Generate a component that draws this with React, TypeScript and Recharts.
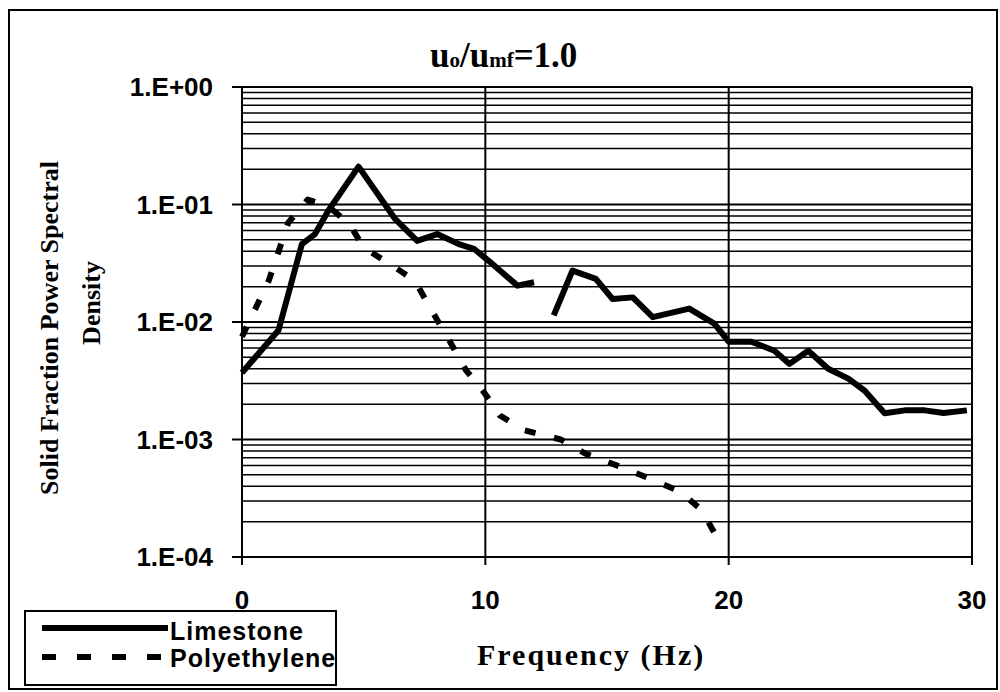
import React from 'react';
import { LineChart, Line, XAxis, YAxis, CartesianGrid, ReferenceLine } from 'recharts';

// Limestone: solid line, with a gap between ~12 and ~12.8 Hz
const limeFreq = [0, 1.5, 2.46, 3.0, 3.54, 4.79, 6.3, 7.2, 8.02, 8.91, 9.53, 10.15, 11.32, 12.0, 12.4, 12.81, 13.58, 14.54, 15.23, 16.06, 16.88, 18.38, 19.41, 20.0, 20.93, 21.88, 22.5, 23.27, 24.09, 24.92, 25.59, 26.41, 27.24, 28.06, 28.83, 29.79];
const limePsd = [0.0037, 0.0085, 0.046, 0.056, 0.088, 0.21, 0.075, 0.049, 0.056, 0.046, 0.042, 0.033, 0.0204, 0.0218, null, 0.0114, 0.0274, 0.0233, 0.0157, 0.0162, 0.011, 0.013, 0.0097, 0.0068, 0.0068, 0.0057, 0.0044, 0.0057, 0.004, 0.0033, 0.0026, 0.00167, 0.00177, 0.00177, 0.00168, 0.00177];

// Polyethylene: dashed line
const polyFreq = [0, 1.1, 1.9, 2.7, 3.5, 4.4, 5.0, 6.2, 7.1, 7.8, 8.6, 9.2, 9.9, 10.6, 11.6, 13.1, 14.1, 15.7, 16.7, 18.0, 18.9, 19.7];
const polyPsd = [0.0075, 0.0225, 0.07, 0.11, 0.098, 0.069, 0.043, 0.03, 0.0225, 0.0125, 0.0065, 0.0039, 0.0026, 0.0016, 0.0012, 0.001, 0.00076, 0.00057, 0.00047, 0.00036, 0.00025, 0.000125];

const xTicks = [0, 10, 20, 30];
const yTicks = [1e-4, 1e-3, 1e-2, 1e-1, 1];
const minorSteps = [2, 3, 4, 5, 6, 7, 8, 9];

const limestone = limeFreq.map((f, i) => ({ f, psd: limePsd[i] }));
const polyethylene = polyFreq.map((f, i) => ({ f, psd: polyPsd[i] }));
const minorLines = yTicks.slice(0, -1).flatMap((d) => minorSteps.map((m) => m * d));

const series = [
  { name: 'Limestone', data: limestone, dash: undefined as string | undefined },
  { name: 'Polyethylene', data: polyethylene, dash: '11 19' },
];

const SANS = '"Liberation Sans", Arial, sans-serif';
const SERIF = '"Liberation Serif", "Times New Roman", serif';

const fmtExp = (v: number) => {
  const e = Math.round(Math.log10(v));
  return `1.E${e < 0 ? '-' : '+'}${String(Math.abs(e)).padStart(2, '0')}`;
};

const tickStyle = { fontFamily: SANS, fontSize: 26, fontWeight: 'bold', fill: '#000' };

export default function App() {
  return (
    <div style={{ position: 'absolute', left: 0, top: 0, width: 1000, height: 692, background: '#fff' }}>
      <LineChart width={1000} height={692} margin={{ top: 87, right: 28, bottom: 75, left: 0 }}>
        <CartesianGrid stroke="#000" strokeWidth={2} strokeOpacity={1} />
        {minorLines.map((v) => (
          <ReferenceLine key={v} y={v} stroke="#000" strokeWidth={1.5} />
        ))}
        <ReferenceLine y={1} stroke="#000" strokeWidth={2} />
        <ReferenceLine x={30} stroke="#000" strokeWidth={2} />
        <XAxis
          dataKey="f"
          type="number"
          domain={[0, 30]}
          ticks={xTicks}
          height={60}
          tick={tickStyle}
          tickSize={8}
          tickMargin={26}
          axisLine={{ stroke: '#000', strokeWidth: 2 }}
          tickLine={{ stroke: '#000', strokeWidth: 2 }}
          allowDuplicatedCategory={false}
        />
        <YAxis
          type="number"
          scale="log"
          domain={[1e-4, 1]}
          ticks={yTicks}
          allowDataOverflow
          width={242}
          tick={tickStyle}
          tickFormatter={fmtExp}
          tickSize={10}
          tickMargin={19}
          axisLine={{ stroke: '#000', strokeWidth: 2 }}
          tickLine={{ stroke: '#000', strokeWidth: 2 }}
        />
        {series.map((s) => (
          <Line
            key={s.name}
            data={s.data}
            dataKey="psd"
            name={s.name}
            stroke="#000"
            strokeWidth={6}
            strokeDasharray={s.dash}
            strokeLinejoin="round"
            dot={false}
            activeDot={false}
            connectNulls={false}
            isAnimationActive={false}
          />
        ))}
      </LineChart>

      <svg width={1000} height={692} style={{ position: 'absolute', left: 0, top: 0, pointerEvents: 'none' }}>
        <rect x={9} y={10} width={988} height={679} fill="none" stroke="#000" strokeWidth={2} />

        <text x={430} y={67} fontFamily={SERIF} fontWeight="bold" fontSize={35} fill="#000">
          u<tspan fontSize={21}>o</tspan>/u<tspan fontSize={21}>mf</tspan>=1.0
        </text>

        <text transform="translate(58,328) rotate(-90)" textAnchor="middle" fontFamily={SERIF} fontWeight="bold" fontSize={26} fill="#000">
          Solid Fraction Power Spectral
        </text>
        <text transform="translate(100,303) rotate(-90)" textAnchor="middle" fontFamily={SERIF} fontWeight="bold" fontSize={26} fill="#000">
          Density
        </text>

        <text x={477} y={665} fontFamily={SERIF} fontWeight="bold" fontSize={30} letterSpacing={2} fill="#000">
          Frequency (Hz)
        </text>

        <rect x={25} y={611} width={311} height={74} fill="#fff" stroke="#000" strokeWidth={2} />
        {series.map((s, i) => (
          <g key={s.name}>
            <line x1={42} x2={168} y1={628 + i * 29} y2={628 + i * 29} stroke="#000" strokeWidth={6} strokeDasharray={s.dash ? '14 21' : undefined} />
            <text x={170} y={640 + i * 27} fontFamily={SANS} fontWeight="bold" fontSize={25} letterSpacing={1} fill="#000">
              {s.name}
            </text>
          </g>
        ))}
      </svg>
    </div>
  );
}
